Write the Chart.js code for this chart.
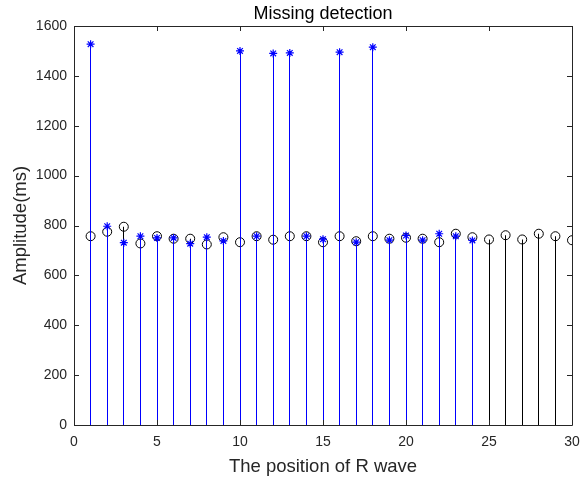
<!DOCTYPE html>
<html><head><meta charset="utf-8">
<script src="https://cdn.jsdelivr.net/npm/chart.js@4.4.1/dist/chart.umd.min.js"></script>
<style>html,body{margin:0;padding:0;background:#fff;}canvas{display:block;}</style>
</head><body>
<canvas id="c" width="580" height="478"></canvas>
<script>
const positions = [1,2,3,4,5,6,7,8,9,10,11,12,13,14,15,16,17,18,19,20,21,22,23,24,25,26,27,28,29,30];
const detectedAmp = [757,775,795,728,757,747,747,724,753,733,757,743,757,757,733,757,737,757,747,751,747,733,767,753,744,761,744,767,757,741];
const missingAmp = [1527,797,731,757,750,750,727,753,738,1500,757,1490,1492,757,745,1495,733,1515,741,760,741,767,757,740];
const xTicks = [0,5,10,15,20,25,30];
const yTicks = [0,200,400,600,800,1000,1200,1400,1600];

const pts = (vals) => vals.map((v,i)=>({x:positions[i], y:v}));
const AX = '#262626';
const FONT = "'Liberation Sans', Arial, sans-serif";

// snap 1px stems to the pixel grid so they render crisp
const snapPlugin = {
  id:'snap',
  afterDatasetsUpdate(chart){
    chart.data.datasets.forEach((ds, i)=>{
      const meta = chart.getDatasetMeta(i);
      if (meta.type !== 'bar') return;
      meta.data.forEach(el=>{ el.x = Math.floor(el.x) + 0.5; });
    });
  }
};

const boxPlugin = {
  id:'box',
  afterDatasetsDraw(chart){
    const {ctx, chartArea:a, scales:{x,y}} = chart;
    ctx.save();
    ctx.strokeStyle = AX; ctx.lineWidth = 1;
    ctx.beginPath();
    ctx.rect(Math.round(a.left)+0.5, Math.round(a.top)+0.5, Math.round(a.right-a.left), Math.round(a.bottom-a.top));
    const L = 5;
    xTicks.forEach(t=>{
      const px = Math.round(x.getPixelForValue(t))+0.5;
      ctx.moveTo(px, a.bottom); ctx.lineTo(px, a.bottom-L);
      ctx.moveTo(px, a.top); ctx.lineTo(px, a.top+L);
    });
    yTicks.forEach(t=>{
      const py = Math.round(y.getPixelForValue(t))+0.5;
      ctx.moveTo(a.left, py); ctx.lineTo(a.left+L, py);
      ctx.moveTo(a.right, py); ctx.lineTo(a.right-L, py);
    });
    ctx.stroke();
    ctx.restore();
  }
};

new Chart(document.getElementById('c'), {
  type:'bar',
  data:{
    datasets:[
      {type:'bar', data:pts(detectedAmp), backgroundColor:'#000', barThickness:1, inflateAmount:0, grouped:false, order:4},
      {type:'scatter', data:pts(detectedAmp), pointStyle:'circle', radius:4.5, borderColor:'#000', backgroundColor:'rgba(0,0,0,0)', borderWidth:1, order:3},
      {type:'bar', data:pts(missingAmp), backgroundColor:'#0000ff', barThickness:1, inflateAmount:0, grouped:false, order:2},
      {type:'scatter', data:pts(missingAmp), pointStyle:'star', radius:4, borderColor:'#0000ff', backgroundColor:'#0000ff', borderWidth:1.2, order:1}
    ]
  },
  options:{
    responsive:false, animation:false,
    layout:{padding:{left:10, right:8, top:0, bottom:0}},
    plugins:{
      legend:{display:false}, tooltip:{enabled:false},
      title:{display:true, fullSize:false, text:'Missing detection', color:'#000', font:{family:FONT, size:18, weight:'normal'}, padding:{top:3,bottom:1.4}}
    },
    scales:{
      x:{type:'linear', min:0, max:30, offset:false,
         grid:{display:false, drawTicks:false}, border:{display:false},
         afterBuildTicks(s){ s.ticks = xTicks.map(v=>({value:v})); },
         ticks:{color:AX, font:{family:FONT, size:14}, maxRotation:0, padding:9, callback:(v)=>String(v)},
         title:{display:true, text:'The position of R wave', color:AX, font:{family:FONT, size:18.5}, padding:{top:4,bottom:0}},
         afterFit(s){ s.height = 53; s.paddingLeft = 0; s.paddingRight = 0; }
      },
      y:{min:0, max:1600,
         grid:{display:false, drawTicks:false}, border:{display:false},
         afterBuildTicks(s){ s.ticks = yTicks.map(v=>({value:v})); },
         ticks:{color:AX, font:{family:FONT, size:14}, padding:7, callback:(v)=>String(v)},
         title:{display:true, text:'Amplitude(ms)', color:AX, font:{family:FONT, size:18.5}, padding:{top:0,bottom:4}},
         afterFit(s){ s.width = 64; s.paddingTop = 0; s.paddingBottom = 0; }
      }
    }
  },
  plugins:[snapPlugin, boxPlugin]
});
</script>
</body></html>
